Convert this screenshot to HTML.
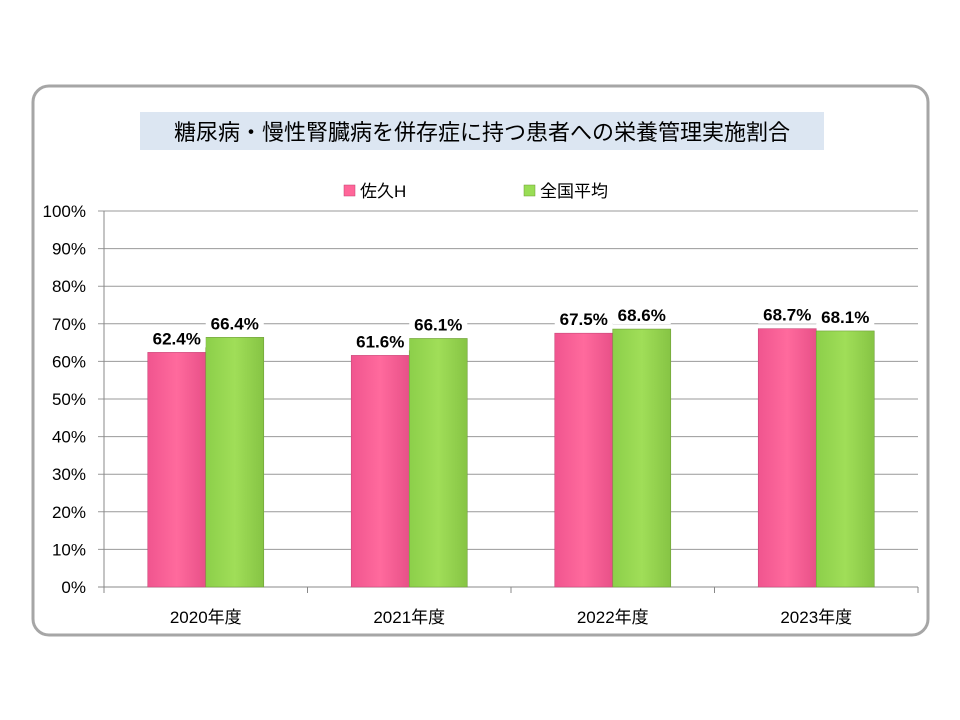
<!DOCTYPE html>
<html><head><meta charset="utf-8"><style>
body{margin:0;background:#fff;}
svg{display:block;font-family:"Liberation Sans","Noto Sans CJK JP",sans-serif;}
</style></head><body>
<svg id="chart" width="960" height="720" viewBox="0 0 960 720">
<defs>
<linearGradient id="gp" x1="0" x2="1"><stop offset="0" stop-color="#f0558f"/><stop offset="0.5" stop-color="#ff6a9d"/><stop offset="1" stop-color="#e85088"/></linearGradient>
<linearGradient id="gg" x1="0" x2="1"><stop offset="0" stop-color="#8ccf4a"/><stop offset="0.5" stop-color="#a0de58"/><stop offset="1" stop-color="#86c444"/></linearGradient>
</defs>
<rect x="33" y="86" width="895" height="549" rx="16" fill="#fff" stroke="#a6a6a6" stroke-width="3"/>
<rect x="140" y="112" width="684" height="38" fill="#dce6f2"/>
<text x="482" y="140" text-anchor="middle" font-size="22" fill="#000">糖尿病・慢性腎臓病を併存症に持つ患者への栄養管理実施割合</text>
<g>
<rect x="344" y="185" width="11" height="11" fill="#ff6699" stroke="#c04070" stroke-width="0.5"/>
<text x="360" y="197" font-size="17">佐久H</text>
<rect x="524" y="185" width="11" height="11" fill="#99dd55" stroke="#6a9a30" stroke-width="0.5"/>
<text x="540" y="197" font-size="17">全国平均</text>
</g>
<g id="grid"></g><g id="bars"></g><g id="labels"></g>
</svg>
<script>
const categories=["2020年度","2021年度","2022年度","2023年度"];
const sakuValues=[62.4,61.6,67.5,68.7];
const nationalValues=[66.4,66.1,68.6,68.1];
const yTicks=[0,10,20,30,40,50,60,70,80,90,100];
const NS="http://www.w3.org/2000/svg";
const X0=104,X1=918,Y0=587,Y1=211;
const yScale=v=>Y0-(v/100)*(Y0-Y1);
const band=(X1-X0)/categories.length;
const xBand=i=>X0+i*band;
const BW=58;
function mk(tag,attrs,parent){const e=document.createElementNS(NS,tag);for(const k in attrs)e.setAttribute(k,attrs[k]);parent.appendChild(e);return e;}
const grid=document.getElementById('grid'),bars=document.getElementById('bars'),labels=document.getElementById('labels');
yTicks.forEach(t=>{const y=yScale(t);
const l=mk('line',{x1:X0-6,x2:X1,y1:y,y2:y,stroke:t===0?'#888':'#999','stroke-width':1},grid);


const tx=mk('text',{x:86,y:y+6,'text-anchor':'end','font-size':17,fill:'#000'},grid);tx.textContent=t+'%';


});
const ax=mk('line',{x1:X0,x2:X0,y1:Y1,y2:Y0,stroke:'#888'},grid);


for(let i=0;i<=categories.length;i++){const x=xBand(i);const tk=mk('line',{x1:x,x2:x,y1:Y0,y2:Y0+6,stroke:'#888'},grid);

}
function label(x,y,txt,name){
const w=58,h=22;
const r=mk('rect',{x:x-w/2,y:y-h+3,width:w,height:h,fill:'#fff'},labels);


const t=mk('text',{x:x,y:y,'text-anchor':'middle','font-size':17,'font-weight':'bold',fill:'#000'},labels);t.textContent=txt;


}
categories.forEach((c,i)=>{
const cx=xBand(i)+band/2;
const ys=yScale(sakuValues[i]),yn=yScale(nationalValues[i]);
const b1=mk('rect',{x:cx-BW,y:ys,width:BW,height:Y0-ys,fill:'url(#gp)',stroke:'#c94a7a','stroke-width':0.6},bars);


const b2=mk('rect',{x:cx,y:yn,width:BW,height:Y0-yn,fill:'url(#gg)',stroke:'#6f9e3a','stroke-width':0.6},bars);


label(cx-BW/2,ys-8,sakuValues[i].toFixed(1)+'%','value-label-saku-'+i);
label(cx+BW/2,yn-8,nationalValues[i].toFixed(1)+'%','value-label-national-'+i);
const t=mk('text',{x:cx,y:623,'text-anchor':'middle','font-size':17,fill:'#000'},labels);t.textContent=c;


});
</script>
</body></html>
